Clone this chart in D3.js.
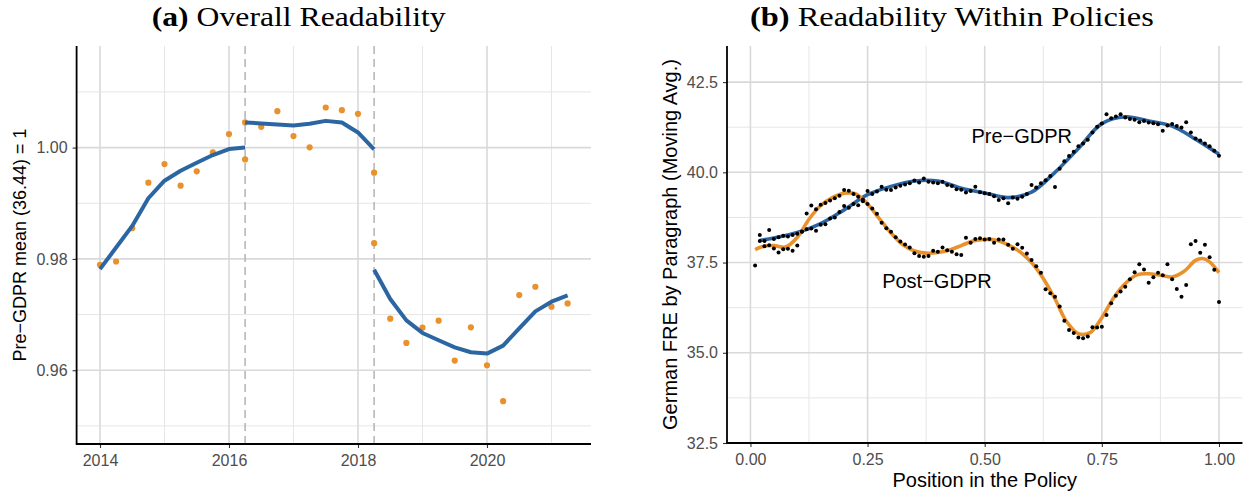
<!DOCTYPE html>
<html>
<head>
<meta charset="utf-8">
<script src="https://cdn.jsdelivr.net/npm/d3@7"></script>
<style>
  body { margin: 0; background: #fff; }
  svg { display: block; }
</style>
</head>
<body>
<div id="chart"></div>
<script>
// ---- Panel (a): quarterly readability, normalised to pre-GDPR mean ----
const QUARTER_DATES = [2014, 2014.25, 2014.5, 2014.75, 2015, 2015.25, 2015.5, 2015.75, 2016, 2016.25,
  2016.25, 2016.5, 2016.75, 2017, 2017.25, 2017.5, 2017.75, 2018, 2018.25,
  2018.25, 2018.5, 2018.75, 2019, 2019.25, 2019.5, 2019.75, 2020, 2020.25, 2020.5, 2020.75, 2021, 2021.25];
const QUARTER_VALUES = [0.97894, 0.97954, 0.98552, 0.99369, 0.99704, 0.99316, 0.99573, 0.99913, 1.00242, 0.99788,
  1.00452, 1.00373, 1.00654, 1.00206, 1.00004, 1.0072, 1.00672, 1.00606, 0.99549,
  0.98283, 0.96927, 0.96491, 0.96765, 0.96891, 0.96174, 0.96771, 0.9609, 0.95445, 0.97351, 0.975, 0.97142, 0.97201];

// fitted trend, one piece per period
const FIT1_DATES = [2014, 2014.25, 2014.5, 2014.75, 2015, 2015.25, 2015.5, 2015.75, 2016, 2016.25];
const FIT1_VALUES = [0.97817, 0.98204, 0.98593, 0.9909, 0.99405, 0.99584, 0.99728, 0.99866, 0.99973, 1.00003];
const FIT2_DATES = [2016.25, 2016.5, 2016.75, 2017, 2017.25, 2017.5, 2017.75, 2018, 2018.25];
const FIT2_VALUES = [1.00452, 1.00434, 1.00416, 1.00398, 1.00427, 1.0048, 1.00452, 1.00272, 0.99968];
const FIT3_DATES = [2018.25, 2018.5, 2018.75, 2019, 2019.25, 2019.5, 2019.75, 2020, 2020.25, 2020.5, 2020.75, 2021, 2021.25];
const FIT3_VALUES = [0.97805, 0.9728, 0.96896, 0.9667, 0.96538, 0.96412, 0.96323, 0.96299, 0.96443, 0.96753, 0.97057, 0.97231, 0.97344];

const BREAK_DATES = [2016.25, 2018.25];

const A_X_MAJOR = [2014, 2016, 2018, 2020];
const A_X_MINOR = [2015, 2017, 2019, 2021];
const A_Y_MAJOR = [0.96, 0.98, 1.00];
const A_Y_MINOR = [0.95, 0.97, 0.99, 1.01];

// ---- Panel (b): readability by position within the policy ----
const PRE_POS = d3.range(2, 101).map(i => i / 100);
const PRE_DOTS = [38.26, 38.10, 38.40, 38.15, 38.20, 38.24, 38.22, 38.26, 38.30,
  38.36, 38.42, 38.44, 38.38, 38.55, 38.56, 38.72, 38.75, 38.90, 39.07,
  39.02, 39.12, 39.09, 39.25, 39.48, 39.40, 39.47, 39.60, 39.52, 39.51,
  39.58, 39.63, 39.66, 39.70, 39.77, 39.72, 39.83, 39.74, 39.72, 39.70,
  39.74, 39.65, 39.62, 39.53, 39.52, 39.44, 39.48, 39.60, 39.45, 39.42,
  39.40, 39.34, 39.23, 39.28, 39.14, 39.30, 39.27, 39.32, 39.40, 39.65,
  39.58, 39.70, 39.78, 39.90, 39.59, 40.10, 40.31, 40.45, 40.57, 40.72,
  40.80, 40.90, 41.10, 41.26, 41.35, 41.61, 41.50, 41.55, 41.61, 41.52,
  41.48, 41.46, 41.39, 41.42, 41.38, 41.36, 41.33, 41.15, 41.30, 41.34,
  41.28, 41.24, 41.39, 41.10, 40.94, 40.88, 40.80, 40.72, 40.60, 40.46];

const POST_POS = d3.range(1, 101).map(i => i / 100);
const POST_DOTS = [37.42, 38.10, 37.95, 37.98, 37.89, 37.78, 37.87, 37.88, 37.83, 37.97,
  38.35, 38.86, 39.08, 38.98, 39.10, 39.15, 39.22, 39.28, 39.35, 39.51,
  39.49, 39.40, 39.32, 39.20, 39.12, 39.00, 38.85, 38.60, 38.45, 38.35,
  38.20, 38.08, 38.00, 37.92, 37.76, 37.68, 37.66, 37.68, 37.83, 37.80,
  37.92, 37.84, 37.80, 37.73, 37.71, 38.19, 38.05, 38.15, 38.17, 38.14,
  38.15, 38.05, 38.14, 38.14, 37.99, 37.88, 38.01, 37.91, 37.75, 37.57,
  37.40, 37.22, 36.76, 36.65, 36.55, 36.28, 35.89, 35.63, 35.55, 35.42,
  35.40, 35.45, 35.71, 35.70, 35.72, 36.05, 36.37, 36.58, 36.70, 36.83,
  37.04, 37.23, 37.45, 37.31, 36.94, 37.09, 37.22, 37.15, 37.45, 37.04,
  36.77, 36.55, 36.88, 38.01, 38.10, 37.77, 37.99, 37.65, 37.30, 36.41];

const PRE_FIT_POS = [0.02, 0.05, 0.10, 0.15, 0.20, 0.25, 0.30, 0.35, 0.40, 0.45, 0.50,
  0.55, 0.60, 0.65, 0.70, 0.75, 0.80, 0.85, 0.90, 0.95, 1.00];
const PRE_FIT = [38.11, 38.18, 38.33, 38.58, 38.96, 39.38, 39.61, 39.76, 39.76, 39.56, 39.43,
  39.30, 39.45, 40.00, 40.66, 41.35, 41.54, 41.42, 41.28, 40.92, 40.50];

const POST_FIT_POS = [0.01, 0.025, 0.05, 0.075, 0.10, 0.125, 0.15, 0.175, 0.20, 0.225, 0.25, 0.275,
  0.30, 0.325, 0.35, 0.375, 0.40, 0.425, 0.45, 0.475, 0.50, 0.525, 0.55, 0.575, 0.60, 0.625,
  0.65, 0.675, 0.70, 0.725, 0.75, 0.775, 0.80, 0.825, 0.85, 0.875, 0.90, 0.925, 0.95, 0.965, 0.98, 1.00];
const POST_FIT = [37.86, 37.94, 37.97, 37.93, 38.20, 38.70, 39.08, 39.30, 39.42, 39.40, 39.12, 38.72,
  38.32, 38.00, 37.82, 37.76, 37.78, 37.85, 37.97, 38.10, 38.14, 38.12, 37.99, 37.80, 37.50, 37.06,
  36.49, 35.86, 35.53, 35.56, 35.97, 36.52, 36.92, 37.16, 37.19, 37.15, 37.10, 37.25, 37.56, 37.61, 37.52, 37.22];

const B_X_MAJOR = [0, 0.25, 0.5, 0.75, 1];
const B_X_MINOR = [0.125, 0.375, 0.625, 0.875];
const B_Y_MAJOR = [32.5, 35, 37.5, 40, 42.5];
const B_Y_MINOR = [33.75, 36.25, 38.75, 41.25];

// ---- drawing ----
const WIDTH = 1245, HEIGHT = 495;
const BLUE = "#2B66A3", ORANGE = "#E8912D";
const SANS = "'Liberation Sans', Arial, Helvetica, sans-serif";
const SERIF = "'Liberation Serif', 'Times New Roman', serif";

const svg = d3.select("#chart").append("svg")
    .attr("width", WIDTH)
    .attr("height", HEIGHT);
svg.append("rect").attr("width", WIDTH).attr("height", HEIGHT).attr("fill", "#fff");

const xA = d3.scaleLinear().domain([2013.6375, 2021.6125]).range([76.6, 591]);
const yA = d3.scaleLinear().domain([0.94675, 1.01825]).range([444, 46]);
const xB = d3.scaleLinear().domain([-0.05, 1.05]).range([727, 1242.4]);
const yB = d3.scaleLinear().domain([32.5, 43.5]).range([443, 46]);

// grid lines (minor thin, major thicker)
function drawGrid(g, x, y, xMajor, xMinor, yMajor, yMinor) {
  const [xl, xr] = x.range(), [yb, yt] = y.range();
  const sets = [
    { vals: xMinor, vert: true, w: 1, c: "#e6e6e6" },
    { vals: yMinor, vert: false, w: 1, c: "#e6e6e6" },
    { vals: xMajor, vert: true, w: 1.6, c: "#d9d9d9" },
    { vals: yMajor, vert: false, w: 1.6, c: "#d9d9d9" }
  ];
  sets.forEach(s => {
    g.append("g").selectAll("line")
      .data(s.vals)
      .join("line")
        .attr("x1", d => s.vert ? x(d) : xl)
        .attr("x2", d => s.vert ? x(d) : xr)
        .attr("y1", d => s.vert ? yb : y(d))
        .attr("y2", d => s.vert ? yt : y(d))
        .attr("stroke", s.c)
        .attr("stroke-width", s.w);
  });
}

// axes: ticks + labels from d3, own black axis lines
function drawAxes(g, x, y, xTicks, yTicks, xFmt, yFmt) {
  const [xl, xr] = x.range(), [yb, yt] = y.range();
  const ax = g.append("g")
      .attr("transform", `translate(0, ${yb})`)
      .call(d3.axisBottom(x).tickValues(xTicks).tickFormat(xFmt).tickSize(4).tickPadding(7));
  const ay = g.append("g")
      .attr("transform", `translate(${xl}, 0)`)
      .call(d3.axisLeft(y).tickValues(yTicks).tickFormat(yFmt).tickSize(4).tickPadding(5));
  [ax, ay].forEach(a => {
    a.select(".domain").remove();
    a.selectAll(".tick line").attr("stroke", "#333").attr("stroke-width", 1.1);
    a.selectAll(".tick text")
      .attr("fill", "#4d4d4d")
      .style("font-family", SANS)
      .style("font-size", "16px");
  });
  g.append("path")
    .attr("d", `M${xl},${yt}V${yb}H${xr}`)
    .attr("fill", "none")
    .attr("stroke", "#000")
    .attr("stroke-width", 1.8);
}

function drawTitle(x, y, targetWidth, bold, rest) {
  const t = svg.append("text")
      .style("font-family", SERIF)
      .style("font-size", "27px")
      .attr("fill", "#000");
  t.append("tspan").style("font-weight", "bold").text(bold);
  t.append("tspan").text(" " + rest);
  const len = t.node().getComputedTextLength();
  t.attr("transform", `translate(${x}, ${y}) scale(${targetWidth / len}, 1)`);
}

// ---------- panel (a) ----------
const gA = svg.append("g");
drawGrid(gA, xA, yA, A_X_MAJOR, A_X_MINOR, A_Y_MAJOR, A_Y_MINOR);

gA.append("g").selectAll("line")
  .data(BREAK_DATES)
  .join("line")
    .attr("x1", d => xA(d)).attr("x2", d => xA(d))
    .attr("y1", yA.range()[1]).attr("y2", yA.range()[0])
    .attr("stroke", "#b3b3b3")
    .attr("stroke-width", 1.5)
    .attr("stroke-dasharray", "8,5");

gA.append("g").selectAll("circle")
  .data(QUARTER_DATES.map((d, i) => ({ d, v: QUARTER_VALUES[i] })))
  .join("circle")
    .attr("cx", p => xA(p.d))
    .attr("cy", p => yA(p.v))
    .attr("r", 3.1)
    .attr("fill", ORANGE);

const lineA = d3.line().x(p => xA(p[0])).y(p => yA(p[1]));
[[FIT1_DATES, FIT1_VALUES], [FIT2_DATES, FIT2_VALUES], [FIT3_DATES, FIT3_VALUES]].forEach(([ds, vs]) => {
  gA.append("path")
    .datum(ds.map((d, i) => [d, vs[i]]))
    .attr("d", lineA)
    .attr("fill", "none")
    .attr("stroke", BLUE)
    .attr("stroke-width", 4)
    .attr("stroke-linejoin", "round");
});

drawAxes(gA, xA, yA, A_X_MAJOR, A_Y_MAJOR, d3.format("d"), d3.format(".2f"));

gA.append("text")
  .attr("transform", `translate(25.5, ${(yA.range()[0] + yA.range()[1]) / 2}) rotate(-90)`)
  .attr("text-anchor", "middle")
  .style("font-family", SANS)
  .style("font-size", "18px")
  .text("Pre\u2212GDPR mean (36.44) = 1");

drawTitle(151.7, 26, 294, "(a)", "Overall Readability");

// ---------- panel (b) ----------
const gB = svg.append("g");
drawGrid(gB, xB, yB, B_X_MAJOR, B_X_MINOR, B_Y_MAJOR, B_Y_MINOR);

const lineB = d3.line().curve(d3.curveCatmullRom.alpha(0.5)).x(p => xB(p[0])).y(p => yB(p[1]));
gB.append("path")
  .datum(PRE_FIT_POS.map((d, i) => [d, PRE_FIT[i]]))
  .attr("d", lineB)
  .attr("fill", "none")
  .attr("stroke", BLUE)
  .attr("stroke-width", 3.6);
gB.append("path")
  .datum(POST_FIT_POS.map((d, i) => [d, POST_FIT[i]]))
  .attr("d", lineB)
  .attr("fill", "none")
  .attr("stroke", ORANGE)
  .attr("stroke-width", 3.6);

const dots = PRE_POS.map((d, i) => [d, PRE_DOTS[i]])
  .concat(POST_POS.map((d, i) => [d, POST_DOTS[i]]));
gB.append("g").selectAll("circle")
  .data(dots)
  .join("circle")
    .attr("cx", p => xB(p[0]))
    .attr("cy", p => yB(p[1]))
    .attr("r", 2)
    .attr("fill", "#000");

gB.append("text")
  .attr("x", xB(0.579)).attr("y", yB(41.0)).attr("dy", "0.36em")
  .attr("text-anchor", "middle")
  .style("font-family", SANS).style("font-size", "20px")
  .text("Pre\u2212GDPR");
gB.append("text")
  .attr("x", xB(0.398)).attr("y", yB(37.0)).attr("dy", "0.36em")
  .attr("text-anchor", "middle")
  .style("font-family", SANS).style("font-size", "20px")
  .text("Post\u2212GDPR");

drawAxes(gB, xB, yB, B_X_MAJOR, B_Y_MAJOR, d3.format(".2f"), d3.format(".1f"));

gB.append("text")
  .attr("x", (xB.range()[0] + xB.range()[1]) / 2)
  .attr("y", 487.3)
  .attr("text-anchor", "middle")
  .style("font-family", SANS).style("font-size", "20px")
  .text("Position in the Policy");

gB.append("text")
  .attr("transform", `translate(676.5, ${(yB.range()[0] + yB.range()[1]) / 2}) rotate(-90)`)
  .attr("text-anchor", "middle")
  .style("font-family", SANS).style("font-size", "20px")
  .text("German FRE by Paragraph (Moving Avg.)");

drawTitle(750, 26, 404, "(b)", "Readability Within Policies");
</script>
</body>
</html>
